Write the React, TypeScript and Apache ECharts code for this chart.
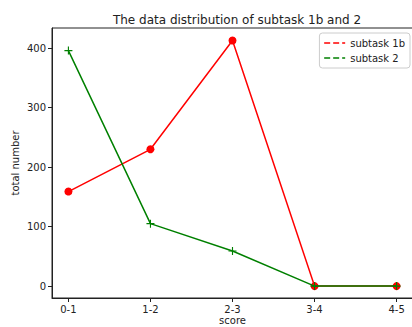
import React, { useEffect, useRef } from "react";
import * as echarts from "echarts";

const categories = ["0-1", "1-2", "2-3", "3-4", "4-5"];
const subtask1b = [159, 230, 413, 0, 0];
const subtask2 = [396, 105, 59, 0, 0];
const yTicks = [0, 100, 200, 300, 400];

const FONT = "DejaVu Sans";

export default function App() {
  const ref = useRef<HTMLDivElement>(null);
  useEffect(() => {
    if (!ref.current) return;
    const chart = echarts.init(ref.current, null, { renderer: "svg" });
    const xIdx = categories.map((_, i) => i);
    chart.setOption({
      animation: false,
      backgroundColor: "#fff",
      title: {
        text: "The data distribution of subtask 1b and 2",
        left: 232,
        textAlign: "center",
        top: 9,
        textStyle: { fontFamily: FONT, fontSize: 12, fontWeight: "normal", color: "#222" },
      },
      legend: {
        right: 2,
        top: 33,
        orient: "vertical",
        itemWidth: 21,
        itemHeight: 10,
        itemGap: 5,
        padding: [5, 5, 5, 4],
        backgroundColor: "#fff",
        borderColor: "#ccc",
        borderWidth: 1,
        borderRadius: 3,
        lineStyle: { type: "dashed", width: 1.5 },
        itemStyle: { opacity: 0 },
        textStyle: { fontFamily: FONT, fontSize: 10, color: "#222" },
        data: ["subtask 1b", "subtask 2"],
      },
      grid: {
        left: 52,
        right: -1,
        top: 28,
        bottom: 29,
        containLabel: false,
        outerBoundsMode: "none",
        show: true,
        borderColor: "#222",
        borderWidth: 1,
      },
      xAxis: {
        type: "value",
        min: -0.2,
        max: 4.2,
        name: "score",
        nameLocation: "middle",
        nameGap: 17,
        nameMoveOverlap: false,
        nameTextStyle: { fontFamily: FONT, fontSize: 10, color: "#222" },
        axisLine: { show: true, onZero: false, lineStyle: { color: "#222", width: 1 } },
        splitLine: { show: false },
        axisTick: { show: true, inside: false, length: 4, customValues: xIdx, lineStyle: { color: "#222" } },
        axisLabel: {
          customValues: xIdx,
          fontFamily: FONT,
          fontSize: 10,
          color: "#222",
          margin: 6,
          formatter: (v: number) => categories[Math.round(v)] ?? "",
        },
      },
      yAxis: {
        type: "value",
        min: -20,
        max: 434,
        name: "total number",
        nameLocation: "middle",
        nameGap: 32,
        nameMoveOverlap: false,
        nameTextStyle: { fontFamily: FONT, fontSize: 10, color: "#222" },
        axisLine: { show: true, onZero: false, lineStyle: { color: "#222", width: 1 } },
        splitLine: { show: false },
        axisTick: { show: true, inside: false, length: 4, customValues: yTicks, lineStyle: { color: "#222" } },
        axisLabel: {
          customValues: yTicks,
          fontFamily: FONT,
          fontSize: 10,
          color: "#222",
          margin: 6,
        },
      },
      series: [
        {
          name: "subtask 1b",
          type: "line",
          data: subtask1b.map((v, i) => [i, v]),
          color: "#ff0000",
          lineStyle: { width: 1.5, color: "#ff0000" },
          symbol: "circle",
          symbolSize: 8,
          itemStyle: { color: "#ff0000" },
          z: 2,
        },
        {
          name: "subtask 2",
          type: "line",
          data: subtask2.map((v, i) => [i, v]),
          color: "#008000",
          lineStyle: { width: 1.5, color: "#008000" },
          symbol: "path://M4.3,0H5.7V4.3H10V5.7H5.7V10H4.3V5.7H0V4.3H4.3Z",
          symbolSize: 8,
          itemStyle: { color: "#008000" },
          z: 3,
        },
      ],
    });
    return () => chart.dispose();
  }, []);
  return <div ref={ref} style={{ width: 412, height: 327, position: "absolute", left: 0, top: 0 }} />;
}
